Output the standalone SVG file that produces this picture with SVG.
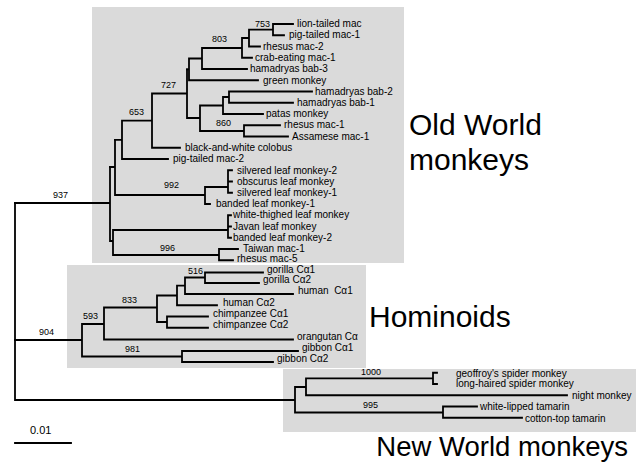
<svg xmlns="http://www.w3.org/2000/svg" width="642" height="464" viewBox="0 0 642 464">
<style>
.box{fill:#dadada;stroke:none}
.br{fill:none;stroke:#000;stroke-width:1.8;stroke-linecap:square}
.lf{font-family:"Liberation Sans",Arial,Helvetica,sans-serif;font-size:10px;fill:#000}
.bs{font-family:"Liberation Sans",Arial,Helvetica,sans-serif;font-size:9px;fill:#000}
.grp{font-family:"Liberation Sans",Arial,Helvetica,sans-serif;font-size:30px;fill:#000}
</style>
<rect width="642" height="464" fill="#fff"/>
<g id="clade-boxes">
<rect id="box-old-world" class="box" x="92" y="7" width="312" height="256"/>
<rect id="box-hominoids" class="box" x="67" y="265" width="299" height="103"/>
<rect id="box-new-world" class="box" x="283" y="369" width="353" height="63"/>
</g>
<g id="connectors">
<path class="br" d="M273,24H293M273,35.25H284M273,24V35.25M249,29.6H273M249,46.5H260M249,29.6V46.5M242,38H249M242,57.75H252M242,38V57.75M202,48H242M202,69H247M202,48V69M189,58.5H202M189,80.25H258M189,58.5V80.25M187,69.4H189"/>
<path class="br" d="M229,91.5H312M229,102.75H293M229,91.5V102.75M223,97H229M223,114H263M223,97V114M200,105.5H223M244,125.25H280M244,136.5H288M244,125.25V136.5M200,131H244M200,105.5V131M187,118H200M187,69.4V118M152,93.5H187M152,147.75H180M152,93.5V147.75M122,120.6H152M122,159H168M122,120.6V159M115,139.8H122"/>
<path class="br" d="M228,170.25H232M228,181.5H232M228,192.75H232M228,170.25V192.75M205,187H228M205,204H210M205,187V204M115,195H205M115,139.8V195M110,167H115"/>
<path class="br" d="M228,215.25H231M228,226.5H231M228,237.75H231M228,215.25V237.75M113,230H228M219,249H238M219,260.25H233M219,249V260.25M113,255H219M113,230V255M110,241H113M110,167V241M15,203H110"/>
<path class="br" d="M205,272.5H263M205,283H259M205,272.5V283M185,277.5H205M185,294H293M185,277.5V294M177,285.7H185M177,305.25H217M177,285.7V305.25M157,295.5H177M167,316.5H208M167,327.75H208M167,316.5V327.75M157,322H167M157,295.5V322M104,307.5H157M104,339.5H293M104,307.5V339.5M82,324H104M182,351H298M182,362H273M182,351V362M82,356.5H182M82,324V356.5M15,340H82"/>
<path class="br" d="M433,372.75H437M433,384H437M433,372.75V384M306,378.4H433M306,395.25H567M306,378.4V395.25M295,387H306M443,406.5H477M443,417.75H522M443,406.5V417.75M295,412.5H443M295,387V412.5M15,400H295M15,203V400"/>
<path id="scale-bar" class="br" d="M15,443H71"/>
</g>
<g id="bootstrap-values">
<text class="bs" x="255" y="26.5">753</text>
<text class="bs" x="212" y="42">803</text>
<text class="bs" x="161" y="88">727</text>
<text class="bs" x="216" y="126">860</text>
<text class="bs" x="129" y="115">653</text>
<text class="bs" x="164" y="188">992</text>
<text class="bs" x="160" y="251">996</text>
<text class="bs" x="53" y="198">937</text>
<text class="bs" x="188" y="274">516</text>
<text class="bs" x="122" y="303">833</text>
<text class="bs" x="83" y="319">593</text>
<text class="bs" x="125" y="352">981</text>
<text class="bs" x="39" y="335">904</text>
<text class="bs" x="361" y="375">1000</text>
<text class="bs" x="363" y="408">995</text>
</g>
<g id="leaves-old-world">
<g id="n-lion-tailed-mac"><text class="lf" x="297" y="27">lion-tailed mac</text></g>
<g id="n-pig-tailed-mac-1"><text class="lf" x="289" y="38">pig-tailed mac-1</text></g>
<g id="n-rhesus-mac-2"><text class="lf" x="263" y="49.5">rhesus mac-2</text></g>
<g id="n-crab-eating-mac-1"><text class="lf" x="255" y="60.5">crab-eating mac-1</text></g>
<g id="n-hamadryas-bab-3"><text class="lf" x="250" y="72">hamadryas bab-3</text></g>
<g id="n-green-monkey"><text class="lf" x="263" y="83.5">green monkey</text></g>
<g id="n-hamadryas-bab-2"><text class="lf" x="315" y="94.5">hamadryas bab-2</text></g>
<g id="n-hamadryas-bab-1"><text class="lf" x="297" y="105.5">hamadryas bab-1</text></g>
<g id="n-patas-monkey"><text class="lf" x="266" y="117">patas monkey</text></g>
<g id="n-rhesus-mac-1"><text class="lf" x="284" y="128">rhesus mac-1</text></g>
<g id="n-assamese-mac-1"><text class="lf" x="292" y="139.5">Assamese mac-1</text></g>
<g id="n-black-and-white-colobus"><text class="lf" x="185" y="150.5">black-and-white colobus</text></g>
<g id="n-pig-tailed-mac-2"><text class="lf" x="173" y="162">pig-tailed mac-2</text></g>
<g id="n-silvered-leaf-monkey-2"><text class="lf" x="237" y="173.5">silvered leaf monkey-2</text></g>
<g id="n-obscurus-leaf-monkey"><text class="lf" x="237" y="184.5">obscurus leaf monkey</text></g>
<g id="n-silvered-leaf-monkey-1"><text class="lf" x="237" y="195.5">silvered leaf monkey-1</text></g>
<g id="n-banded-leaf-monkey-1"><text class="lf" x="216" y="207">banded leaf monkey-1</text></g>
<g id="n-white-thighed-leaf-monkey"><text class="lf" x="233" y="218">white-thighed leaf monkey</text></g>
<g id="n-javan-leaf-monkey"><text class="lf" x="233" y="229.5">Javan leaf monkey</text></g>
<g id="n-banded-leaf-monkey-2"><text class="lf" x="233" y="240.5">banded leaf monkey-2</text></g>
<g id="n-taiwan-mac-1"><text class="lf" x="243" y="251.5">Taiwan mac-1</text></g>
<g id="n-rhesus-mac-5"><text class="lf" x="237" y="261.5">rhesus mac-5</text></g>
</g>
<g id="leaves-hominoids">
<g id="n-gorilla-ca1"><text class="lf" x="267" y="272.6">gorilla Cα1</text></g>
<g id="n-gorilla-ca2"><text class="lf" x="263" y="283">gorilla Cα2</text></g>
<g id="n-human-ca1"><text class="lf" x="298" y="294" xml:space="preserve">human  Cα1</text></g>
<g id="n-human-ca2"><text class="lf" x="223" y="305.5">human Cα2</text></g>
<g id="n-chimpanzee-ca1"><text class="lf" x="213" y="316.5">chimpanzee Cα1</text></g>
<g id="n-chimpanzee-ca2"><text class="lf" x="213" y="327.5">chimpanzee Cα2</text></g>
<g id="n-orangutan-ca"><text class="lf" x="297" y="339.5">orangutan Cα</text></g>
<g id="n-gibbon-ca1"><text class="lf" x="302" y="350.5">gibbon Cα1</text></g>
<g id="n-gibbon-ca2"><text class="lf" x="277" y="362">gibbon Cα2</text></g>
</g>
<g id="leaves-new-world">
<g id="n-geoffroys-spider-monkey"><text class="lf" x="456" y="376.5">geoffroy's spider monkey</text></g>
<g id="n-long-haired-spider-monkey"><text class="lf" x="456" y="387">long-haired spider monkey</text></g>
<g id="n-night-monkey"><text class="lf" x="572" y="398.5">night monkey</text></g>
<g id="n-white-lipped-tamarin"><text class="lf" x="480" y="410">white-lipped tamarin</text></g>
<g id="n-cotton-top-tamarin"><text class="lf" x="525" y="421.5">cotton-top tamarin</text></g>
</g>
<g id="group-labels">
<text class="grp" x="409" y="135">Old World</text>
<text class="grp" x="409" y="170">monkeys</text>
<text class="grp" x="369" y="327">Hominoids</text>
<text class="grp" x="628" y="456" text-anchor="end" style="font-size:27.5px">New World monkeys</text>
</g>
<g id="scale-label"><text class="lf" x="30" y="434" style="font-size:11px">0.01</text></g>
</svg>
